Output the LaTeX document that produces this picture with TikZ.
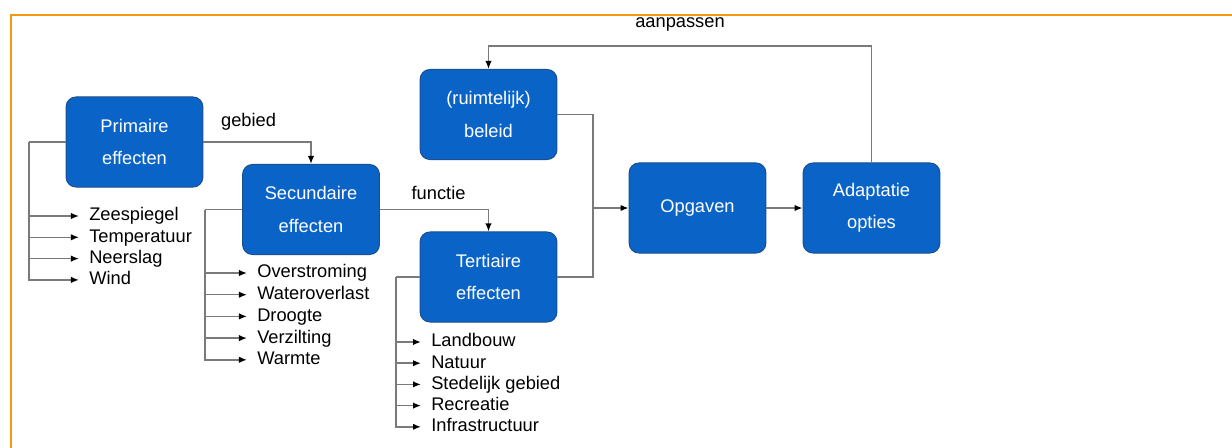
\documentclass[tikz,border=0pt]{standalone}
\usepackage{fontspec}
\setmainfont{Liberation Sans}
\usetikzlibrary{arrows.meta, positioning, calc}
\definecolor{boxblue}{HTML}{0A64C8}
\definecolor{boxedge}{HTML}{1D4E8F}
\definecolor{lngray}{HTML}{7A7A7A}
\definecolor{frame}{HTML}{F59A0E}

\begin{document}
\begin{tikzpicture}[
  x=0.025cm, y=-0.025cm,
  box/.style={draw=boxedge, line width=0.7pt, fill=boxblue, rounded corners=7pt,
    minimum width=3.42cm, minimum height=2.25cm, align=center, text=white,
    font=\fontsize{13}{23}\selectfont, inner sep=2pt},
  item/.style={anchor=west, inner xsep=0.25cm, inner ysep=0pt,
    text height=0.8em, text depth=0.1em, font=\fontsize{13}{15}\selectfont},
  lbl/.style={font=\fontsize{13}{15}\selectfont},
  line/.style={draw=lngray, line width=1.1pt},
  arr/.style={line, -{Latex[length=2mm, width=1.6mm, black]}},
]

% Frame
\useasboundingbox (0,0) rectangle (1232,448);
\draw[frame, line width=2pt] (11,448) -- (11,15) -- (1232,15);

% === Boxes ===
\node[box] (prim) at (134.5,142) {Primaire\\effecten};
\node[box] (sec) at (311,209.5) {Secundaire\\effecten};
\node[box] (ter) at (488.5,277) {Tertiaire\\effecten};
\node[box] (bel) at (488.5,114.5) {(ruimtelijk)\\beleid};
\node[box] (opg) at (697.5,208) {Opgaven};
\node[box] (adap) at (871.5,208) {Adaptatie\\opties};

% === Main chain ===
\draw[arr] (prim.east) -| (sec.north) node[lbl, pos=0.21, above=1.5mm] (lgeb) {gebied};
\draw[arr] (sec.east) -| (ter.north) node[lbl, pos=0.27, above=1mm] (lfun) {functie};

\coordinate (jn) at (593,208);
\draw[line] (bel.east) -| (jn);
\draw[line] (ter.east) -| (jn);
\draw[arr] (jn) -- (opg.west);
\draw[arr] (opg) -- (adap);

\coordinate (fb) at (871.5,46);
\draw[arr] (adap.north) -- (fb) -| (bel.north) node[lbl, pos=0.25, above=2.3mm] (laan) {aanpassen};

% === Primaire effecten ===
\foreach \t [count=\i] in {Zeespiegel,Temperatuur,Neerslag,Wind}
  \node[item] (p\i) at (79,{216+21.3*(\i-1)}) {\t};
\coordinate (pt) at (29,142);
\draw[line] (prim.west) -- (pt);
\draw[arr] (pt) |- (p4.west);
\foreach \i in {1,2,3}
  \draw[arr] (pt |- p\i.west) -- (p\i.west);

% === Secundaire effecten ===
\foreach \t [count=\i] in {Overstroming,Wateroverlast,Droogte,Verzilting,Warmte}
  \node[item] (s\i) at (247,{273+21.7*(\i-1)}) {\t};
\coordinate (st) at (205,209.5);
\draw[line] (sec.west) -- (st);
\draw[arr] (st) |- (s5.west);
\foreach \i in {1,2,3,4}
  \draw[arr] (st |- s\i.west) -- (s\i.west);

% === Tertiaire effecten ===
\foreach \t [count=\i] in {Landbouw,Natuur,Stedelijk gebied,Recreatie,Infrastructuur}
  \node[item] (t\i) at (421,{342+21.2*(\i-1)}) {\t};
\coordinate (tt) at (396,277);
\draw[line] (ter.west) -- (tt);
\draw[arr] (tt) |- (t5.west);
\foreach \i in {1,2,3,4}
  \draw[arr] (tt |- t\i.west) -- (t\i.west);

\end{tikzpicture}
\end{document}
